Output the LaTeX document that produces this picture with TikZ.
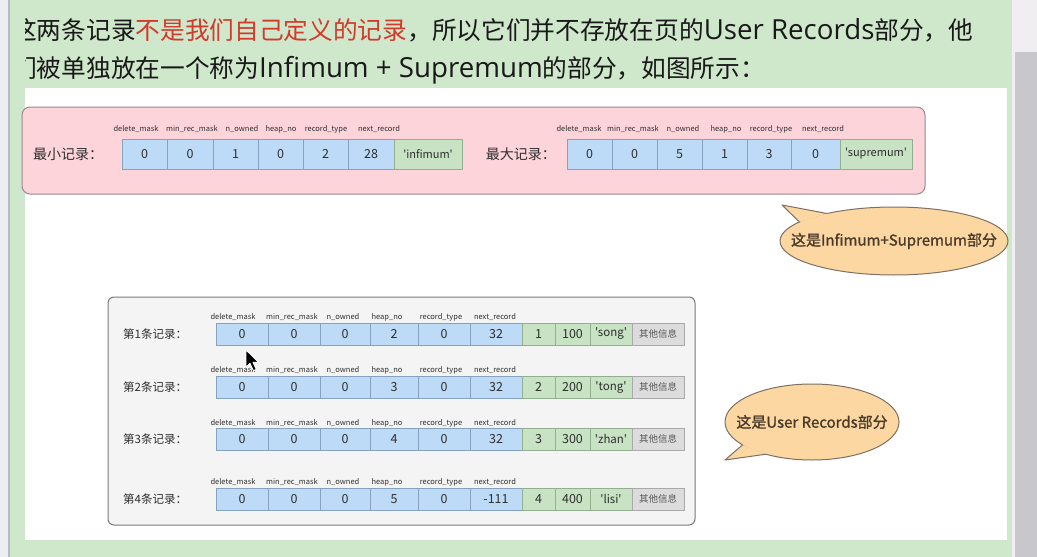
\documentclass[tikz,border=0pt]{standalone}
\usepackage{fontspec}
\setmainfont{Noto Sans CJK SC}
\newfontfamily\latfont{Open Sans}[Scale=1.12]
\newfontfamily\plainfont{Noto Sans CJK SC}
\newfontfamily\callfont{Noto Sans CJK SC}[FakeBold=1.2]
\usetikzlibrary{shapes.geometric}
\definecolor{bggreen}{HTML}{CFE7CB}
\definecolor{leftgray}{HTML}{ECEEF2}
\definecolor{leftline}{HTML}{B4BCCB}
\definecolor{scrolllight}{HTML}{F1EEF1}
\definecolor{scrollgray}{HTML}{C8C8CC}
\definecolor{topred}{HTML}{D23A2A}
\definecolor{pinkfill}{HTML}{FCD4D9}
\definecolor{pinkborder}{HTML}{9A8A8E}
\definecolor{bluefill}{HTML}{BDDBF6}
\definecolor{blueborder}{HTML}{86A2C0}
\definecolor{greenfill}{HTML}{C7E3C4}
\definecolor{greenborder}{HTML}{93AE90}
\definecolor{cellgray}{HTML}{DCDCDC}
\definecolor{cellgrayborder}{HTML}{A9A9A9}
\definecolor{boxfill}{HTML}{F4F4F4}
\definecolor{boxborder}{HTML}{7A7A7A}
\definecolor{callfill}{HTML}{FCD7A1}
\definecolor{callborder}{HTML}{7E7062}
\definecolor{calltext}{HTML}{4A3A2A}
\definecolor{darktext}{HTML}{2E2E2E}
\tikzset{
  toptext/.style={font=\fontsize{24.7}{28}\selectfont, text=black!90, inner sep=0pt},
  hdr/.style={font=\fontsize{7.5}{9}\selectfont, text=darktext, inner sep=0pt},
  rowlabel/.style={font=\fontsize{14}{16}\selectfont, text=darktext, inner sep=0pt, anchor=west},
  rowlabelsmall/.style={font=\fontsize{11.5}{13}\selectfont, text=darktext, inner sep=0pt, anchor=west},
  cellbase/.style={anchor=north west, inner sep=0pt, outer sep=0pt, line width=0.7pt, text=darktext},
  bcell/.style={cellbase, draw=blueborder, fill=bluefill},
  gcell/.style={cellbase, draw=greenborder, fill=greenfill},
  ocell/.style={cellbase, draw=cellgrayborder, fill=cellgray, text=black!65},
  calltxt/.style={font=\callfont\fontsize{15}{17}\selectfont, text=calltext, inner sep=0pt},
}
\begin{document}
\begin{tikzpicture}[x=1pt,y=-1pt]
\useasboundingbox (0,0) rectangle (1037,557);
% window background
\fill[bggreen] (0,0) rectangle (1012,557);
\fill[leftgray] (0,0) rectangle (8,557);
\fill[leftline] (8,0) rectangle (9.5,557);
\fill[scrolllight] (1012,0) rectangle (1037,557);
\fill[scrollgray] (1015,52) rectangle (1037,557);
\fill[white] (25,88) rectangle (1007,540);
% top text
\begin{scope}
\clip (25,0) rectangle (1012,88);
\node[toptext, anchor=west] (line1) at (12,30) {这两条记录\textcolor{topred}{不是我们自己定义的记录}，所以它们并不存放在页的{\latfont User Records}部分，他};
\node[toptext, anchor=west] (line2) at (12,70) {们被单独放在一个称为{\latfont Infimum + Supremum}的部分，如图所示：};
\end{scope}
% pink box
\draw[pinkborder, fill=pinkfill, line width=1pt, rounded corners=8pt] (22,107) rectangle (925,194);
\node[rowlabel] (minlab) at (33,154) {最小记录：};
\node[rowlabel, anchor=east] (maxlab) at (556,154) {最大记录：};
\foreach \a/\b/\v [count=\i] in {122/167/0,167/213/0,213/258/1,258/303/0,303/348/2,348/394/28}
  \node[bcell, minimum width={(\b-\a)*1pt}, minimum height=30pt, font=\fontsize{12.5}{14}\selectfont] (pmin\i) at (\a,139) {\v};
\node[gcell, minimum width=68pt, minimum height=30pt, font=\plainfont\fontsize{11}{13}\selectfont] (pmin7) at (394,139) {'infimum'};
\foreach \a/\b/\v [count=\i] in {567/612/0,612/657/0,657/702/5,702/747/1,747/791/3,791/840/0}
  \node[bcell, minimum width={(\b-\a)*1pt}, minimum height=30pt, font=\fontsize{12.5}{14}\selectfont] (pmax\i) at (\a,139) {\v};
\node[gcell, minimum width=72pt, minimum height=30pt, font=\plainfont\fontsize{11}{13}\selectfont] (pmax7) at (840,139) {'supremum'};
\foreach \c/\t [count=\i] in {136/delete\_mask,192/min\_rec\_mask,242/n\_owned,281/heap\_no,326/record\_type,379/next\_record}
  \node[hdr] (pminh\i) at (\c,129) {\t};
\foreach \c/\t [count=\i] in {579/delete\_mask,633/min\_rec\_mask,683/n\_owned,726/heap\_no,771/record\_type,823/next\_record}
  \node[hdr] (pmaxh\i) at (\c,129) {\t};
% callout 1
\coordinate (c1tip) at (782,205);
\coordinate (c1a) at ({894+114*cos(126)},{241-34*sin(126)});
\coordinate (c1b) at ({894+114*cos(146)},{241-34*sin(146)});
\coordinate (c1ai) at ({894+104*cos(126)},{241-28*sin(126)});
\coordinate (c1bi) at ({894+104*cos(146)},{241-28*sin(146)});
\draw[callborder, fill=callfill, line width=1pt] (894,241) ellipse [x radius=114, y radius=34];
\fill[callfill] (c1a) -- (c1ai) -- (c1bi) -- (c1b) -- cycle;
\fill[callfill] (c1tip) -- (c1a) -- (c1b) -- cycle;
\draw[callborder, line width=1pt, line join=round] (c1a) -- (c1tip) -- (c1b);
\node[calltxt] (call1) at (894,241) {这是Infimum+Supremum部分};
% gray box
\draw[boxborder, fill=boxfill, line width=1pt, rounded corners=6pt] (108,297) rectangle (695,525);
\foreach \y/\h/\rn/\nr/\name [count=\j] in {323/317/1/32/song,376/370/2/32/tong,428/423/3/32/zhan,488/482/4/-111/lisi}{
  \node[rowlabelsmall] (lab\j) at (123,\y+11) {第\rn 条记录：};
  \foreach \a/\b [count=\i] in {216/268,268/320,320/370,370/418,418/470}
    \node[bcell, minimum width={(\b-\a)*1pt}, minimum height=22pt, font=\fontsize{12.5}{14}\selectfont] (r\j c\i) at (\a,\y) {\ifnum\i=4 \number\numexpr\rn+1\relax\else 0\fi};
  \node[bcell, minimum width=52pt, minimum height=22pt, font=\fontsize{12.5}{14}\selectfont] (r\j c6) at (470,\y) {\nr};
  \node[gcell, minimum width=33pt, minimum height=22pt, font=\fontsize{12.5}{14}\selectfont] (r\j c7) at (522,\y) {\rn};
  \node[gcell, minimum width=35pt, minimum height=22pt, font=\fontsize{12.5}{14}\selectfont] (r\j c8) at (555,\y) {\rn 00};
  \node[gcell, minimum width=42pt, minimum height=22pt, font=\plainfont\fontsize{11.5}{13}\selectfont] (r\j c9) at (590,\y) {'\name'};
  \node[ocell, minimum width=52pt, minimum height=22pt, font=\fontsize{9.5}{11}\selectfont] (r\j c10) at (632,\y) {其他信息};
  \foreach \c/\t [count=\i] in {233/delete\_mask,292/min\_rec\_mask,343/n\_owned,387/heap\_no,441/record\_type,495/next\_record}
    \node[hdr] (r\j h\i) at (\c,\h) {\t};
}
% callout 2
\coordinate (c2tip) at (725,460);
\coordinate (c2a) at ({812+87*cos(217)},{422-38*sin(217)});
\coordinate (c2b) at ({812+87*cos(238)},{422-38*sin(238)});
\coordinate (c2ai) at ({812+77*cos(217)},{422-31*sin(217)});
\coordinate (c2bi) at ({812+77*cos(238)},{422-31*sin(238)});
\draw[callborder, fill=callfill, line width=1pt] (812,422) ellipse [x radius=87, y radius=38];
\fill[callfill] (c2a) -- (c2ai) -- (c2bi) -- (c2b) -- cycle;
\fill[callfill] (c2tip) -- (c2a) -- (c2b) -- cycle;
\draw[callborder, line width=1pt, line join=round] (c2a) -- (c2tip) -- (c2b);
\node[calltxt] (call2) at (812,422) {这是User Records部分};
% mouse cursor
\filldraw[fill=black, draw=white, line width=0.8pt, line join=round]
  (246,350) -- ++(0,17) -- ++(4,-3.8) -- ++(3.4,7.4) -- ++(2.8,-1.3) -- ++(-3.3,-7.1) -- ++(5.6,0) -- cycle;
\end{tikzpicture}
\end{document}
